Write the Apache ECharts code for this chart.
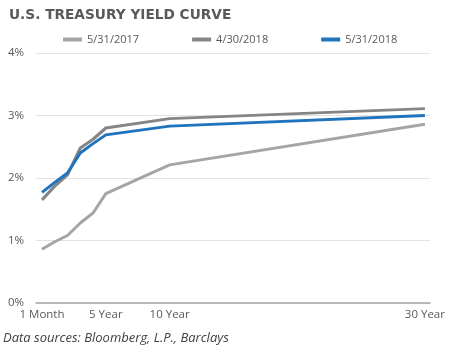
<!DOCTYPE html>
<html>
<head>
<meta charset="utf-8">
<script src="https://cdn.jsdelivr.net/npm/echarts@6/dist/echarts.min.js"></script>
<style>
  html, body { margin: 0; padding: 0; background: #fff; }
  #main { width: 450px; height: 351px; }
</style>
</head>
<body>
<div id="main"></div>
<script>
// maturity positions on the x axis (Excel-style units, 1 unit ~ 1 year slot)
const maturities = [0, 1, 2, 3, 4, 5, 10, 30];
const tickValues = [0, 5, 10, 30];
const tickLabels = {0: '1 Month', 5: '5 Year', 10: '10 Year', 30: '30 Year'};

// yields in %
const y2017 = [0.86, 0.98, 1.08, 1.28, 1.44, 1.75, 2.21, 2.86];
const apr2018 = [1.65, 1.87, 2.05, 2.48, 2.62, 2.80, 2.95, 3.11];
const may2018 = [1.77, 1.93, 2.08, 2.40, 2.55, 2.69, 2.83, 3.00];

const seriesNames = ['5/31/2017', '4/30/2018', '5/31/2018'];
const seriesColors = ['#a5a5a5', '#858585', '#1f74bd'];

const pair = arr => maturities.map((m, i) => [m, arr[i]]);

const chart = echarts.init(document.getElementById('main'));
chart.setOption({
  animation: false,
  title: {
    text: 'U.S. TREASURY YIELD CURVE',
    left: 4,
    top: 3,
    textStyle: {
      fontFamily: 'DejaVu Sans',
      fontWeight: 'bold',
      fontSize: 13.7,
      color: '#595959'
    }
  },
  legend: {
    left: 58,
    top: 29,
    itemWidth: 19,
    itemHeight: 4,
    itemGap: 53,
    icon: 'rect',
    textStyle: { fontFamily: 'Open Sans', fontSize: 11, color: '#595959' },
    data: seriesNames
  },
  grid: { left: 36, right: 20, top: 53, bottom: 48 },
  xAxis: {
    type: 'value',
    min: -0.47,
    max: 30.4,
    axisLine: { show: true, lineStyle: { color: '#a6a6a6', width: 1.5 } },
    axisTick: { show: false },
    splitLine: { show: false },
    axisLabel: {
      customValues: tickValues,
      formatter: v => tickLabels[v] || '',
      fontFamily: 'Open Sans',
      fontSize: 11.5,
      color: '#595959',
      margin: 6
    }
  },
  yAxis: {
    type: 'value',
    min: 0,
    max: 4,
    interval: 1,
    axisLine: { show: false },
    axisTick: { show: false },
    splitLine: { lineStyle: { color: '#e3e3e3', width: 1 } },
    axisLabel: {
      formatter: '{value}%',
      fontFamily: 'Open Sans',
      fontSize: 11.5,
      color: '#595959',
      margin: 12
    }
  },
  series: [y2017, apr2018, may2018].map((d, i) => ({
    name: seriesNames[i],
    type: 'line',
    data: pair(d),
    symbol: 'none',
    z: 2 + i,
    itemStyle: { color: seriesColors[i] },
    lineStyle: { color: seriesColors[i], width: 3 }
  })),
  graphic: [{
    type: 'text',
    left: 3,
    top: 332,
    style: {
      text: 'Data sources: Bloomberg, L.P., Barclays',
      fontFamily: 'Open Sans',
      fontStyle: 'italic',
      fontSize: 13,
      fill: '#404040'
    }
  }]
});
</script>
</body>
</html>
